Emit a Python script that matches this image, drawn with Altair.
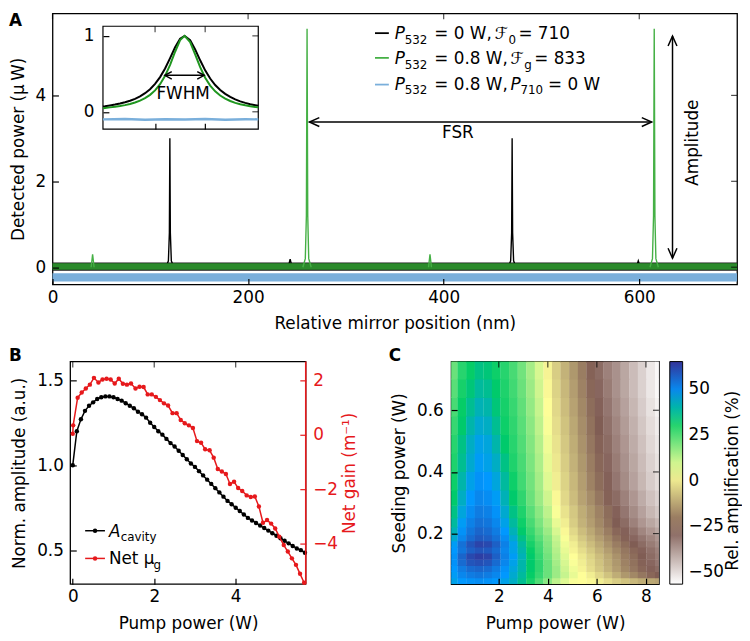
import altair as alt
import pandas as pd

FONT = "DejaVu Sans"
FS = 17
RED = "#e6191c"
GREEN = "#45b045"
GREEN_INSET = "#1f961f"
GREEN_BAND = "#2b8a2b"
BLUE = "#7aafdb"

# ---------------- Panel A data ----------------
band_x = [0, 700]
blk_band = [-0.08, 0.11]
grn_band = [-0.06, 0.09]
blu_band = [-0.33, -0.14]

blk_x = [116, 118.5, 119.5, 120, 120.5, 121.5, 124,
         241, 243, 245,
         466, 468.5, 469.5, 470, 470.5, 471.5, 474,
         597, 599, 601]
blk_y = [0, 0.15, 0.8, 3.0, 0.8, 0.15, 0,
         0, 0.19, 0,
         0, 0.15, 0.8, 3.0, 0.8, 0.15, 0,
         0, 0.15, 0]
blk_seg = [1] * 7 + [2] * 3 + [3] * 7 + [4] * 3

grn_x = [39.5, 41, 42.5,
         256, 258.5, 259.6, 260.3, 261, 262, 264.5,
         384.5, 386, 387.5,
         611, 613.5, 614.6, 615.3, 616, 617, 619.5]
grn_y = [0, 0.30, 0,
         0, 0.2, 1.2, 5.55, 1.2, 0.2, 0,
         0, 0.30, 0,
         0, 0.2, 1.2, 5.55, 1.2, 0.2, 0]
grn_seg = [1] * 3 + [2] * 7 + [3] * 3 + [4] * 7

# inset (normalised resonance)
inset_u = [-0.04, 0.0, 0.1, 0.2, 0.3, 0.4, 0.5, 0.6, 0.7, 0.8, 0.9, 1.0, 1.1, 1.2, 1.3,
           1.4, 1.5, 1.59, 1.7, 1.8, 1.9, 2.0, 2.1, 2.2, 2.3, 2.4, 2.5, 2.6, 2.7, 2.8,
           2.9, 3.0, 3.06]
inset_blk = [0.071, 0.074, 0.084, 0.095, 0.109, 0.125, 0.146, 0.171, 0.204, 0.245, 0.298,
             0.368, 0.457, 0.571, 0.707, 0.849, 0.962, 1.0, 0.944, 0.821, 0.678, 0.546,
             0.438, 0.352, 0.287, 0.236, 0.196, 0.163, 0.137, 0.117, 0.100, 0.087, 0.080]
inset_grn = [0.048, 0.051, 0.058, 0.066, 0.076, 0.088, 0.103, 0.123, 0.147, 0.180, 0.223,
             0.282, 0.363, 0.474, 0.619, 0.791, 0.944, 1.0, 0.919, 0.756, 0.588, 0.449,
             0.345, 0.269, 0.214, 0.173, 0.142, 0.118, 0.100, 0.086, 0.074, 0.064, 0.060]
inset_bu = [-0.04, 0.4, 0.8, 1.2, 1.6, 2.0, 2.4, 2.8, 3.06]
inset_bv = [-0.10, -0.095, -0.105, -0.098, -0.102, -0.096, -0.104, -0.099, -0.10]

# ---------------- Panel B data ----------------
pump_b = [0.0, 0.1, 0.2, 0.3, 0.4, 0.5, 0.6, 0.7, 0.8, 0.9,
          1.0, 1.1, 1.2, 1.3, 1.4, 1.5, 1.6, 1.7, 1.8, 1.9,
          2.0, 2.1, 2.2, 2.3, 2.4, 2.5, 2.6, 2.7, 2.8, 2.9,
          3.0, 3.1, 3.2, 3.3, 3.4, 3.5, 3.6, 3.7, 3.8, 3.9,
          4.0, 4.1, 4.2, 4.3, 4.4, 4.5, 4.6, 4.7, 4.8, 4.9,
          5.0, 5.1, 5.2, 5.3, 5.4, 5.5, 5.6, 5.7]
amp_b = [1.00, 1.20, 1.27, 1.32, 1.35, 1.37, 1.39, 1.40, 1.405, 1.405,
         1.40, 1.39, 1.38, 1.365, 1.35, 1.335, 1.315, 1.30, 1.28, 1.25,
         1.225, 1.20, 1.18, 1.155, 1.13, 1.11, 1.085, 1.06, 1.035, 1.01,
         0.99, 0.965, 0.94, 0.915, 0.89, 0.865, 0.84, 0.815, 0.79, 0.77,
         0.75, 0.73, 0.71, 0.69, 0.675, 0.66, 0.645, 0.63, 0.615, 0.60,
         0.585, 0.57, 0.555, 0.54, 0.525, 0.51, 0.50, 0.485]
pump_r = [0.0, 0.01, 0.12, 0.22, 0.32, 0.42, 0.52, 0.63, 0.73, 0.83, 0.93, 1.03,
          1.13, 1.23, 1.33, 1.43, 1.54, 1.64, 1.74, 1.84, 1.94, 2.04,
          2.14, 2.24, 2.34, 2.45, 2.55, 2.65, 2.75, 2.85, 2.95, 3.05,
          3.15, 3.25, 3.36, 3.46, 3.56, 3.66, 3.76, 3.86, 3.96, 4.06,
          4.16, 4.27, 4.37, 4.47, 4.57, 4.67, 4.77, 4.87, 4.97, 5.07,
          5.18, 5.28, 5.38, 5.48, 5.58, 5.68]
gain_r = [0.04, 0.35, 1.37, 1.56, 1.71, 1.85, 2.10, 1.93, 2.04, 2.07, 2.04, 1.89,
          2.07, 1.88, 1.85, 1.89, 1.71, 1.77, 1.76, 1.49, 1.49, 1.40,
          1.28, 1.16, 1.08, 0.80, 0.80, 0.55, 0.43, 0.35, 0.25, -0.23,
          -0.29, -0.53, -0.57, -0.84, -1.26, -1.35, -1.44, -1.81, -1.73, -1.96,
          -2.07, -2.23, -2.29, -2.27, -2.64, -3.24, -3.14, -3.27, -3.45, -3.75,
          -4.06, -4.30, -4.55, -4.79, -5.12, -5.45]

# ---------------- Panel C data ----------------
pump_c = [0.15, 0.5, 0.85, 1.2, 1.55, 1.9, 2.25, 2.6, 2.95, 3.3, 3.65, 4.0, 4.35,
          4.7, 5.05, 5.4, 5.75, 6.1, 6.45, 6.8, 7.15, 7.5, 7.85, 8.2, 8.55]
seed_lo = [0.036, 0.055, 0.075, 0.095, 0.115, 0.135, 0.155, 0.175, 0.195, 0.22,
           0.25, 0.29, 0.34, 0.40, 0.46, 0.52, 0.58, 0.64, 0.70]
seed_hi = [0.055, 0.075, 0.095, 0.115, 0.135, 0.155, 0.175, 0.195, 0.22, 0.25,
           0.29, 0.34, 0.40, 0.46, 0.52, 0.58, 0.64, 0.70, 0.76]
amp_grid = [
    [45, 47, 48, 49, 48, 47, 45, 42, 38, 32, 25, 18, 12, 8, 5, 4, 3, 1, -2, -5, -7, -9, -11, -12, -13],
    [46, 50, 52, 53, 52, 50, 47, 43, 39, 34, 28, 22, 16, 11, 7, 4, 1, -3, -7, -11, -15, -18, -21, -24, -26],
    [47, 52, 55, 56, 55, 52, 48, 44, 40, 35, 29, 22, 16, 10, 6, 2, -2, -6, -10, -14, -18, -21, -24, -27, -29],
    [48, 55, 59, 60, 59, 55, 50, 45, 40, 35, 29, 22, 15, 9, 5, 1, -3, -7, -11, -15, -19, -22, -25, -28, -31],
    [48, 56, 61, 63, 62, 57, 51, 46, 41, 35, 28, 21, 14, 8, 4, 0, -4, -8, -12, -16, -20, -23, -26, -29, -32],
    [47, 53, 57, 59, 58, 55, 50, 45, 40, 34, 27, 20, 13, 7, 2, -2, -6, -10, -14, -18, -21, -24, -27, -30, -33],
    [46, 54, 59, 62, 61, 57, 51, 45, 39, 32, 26, 19, 12, 6, 1, -4, -8, -12, -16, -20, -23, -26, -29, -32, -35],
    [43, 50, 55, 58, 57, 54, 49, 43, 37, 30, 24, 18, 11, 5, -1, -6, -10, -14, -18, -22, -25, -28, -31, -34, -37],
    [41, 48, 53, 56, 55, 52, 47, 41, 35, 28, 22, 16, 9, 3, -3, -8, -12, -16, -20, -24, -27, -30, -34, -37, -40],
    [39, 46, 51, 54, 53, 50, 45, 39, 33, 26, 20, 14, 7, 1, -5, -10, -14, -18, -22, -26, -29, -33, -37, -40, -43],
    [37, 44, 49, 52, 51, 48, 43, 37, 31, 24, 18, 12, 5, -1, -6, -11, -15, -19, -23, -27, -31, -35, -39, -43, -46],
    [35, 42, 47, 50, 49, 46, 41, 35, 29, 22, 16, 10, 3, -3, -8, -13, -17, -21, -25, -29, -33, -37, -41, -45, -48],
    [33, 40, 45, 48, 47, 44, 39, 33, 27, 21, 15, 8, 1, -4, -9, -14, -19, -23, -27, -31, -35, -39, -43, -47, -50],
    [31, 38, 43, 46, 45, 42, 37, 31, 26, 20, 14, 7, 0, -5, -10, -15, -20, -24, -28, -32, -36, -40, -44, -48, -51],
    [30, 37, 42, 45, 44, 40, 35, 30, 25, 19, 13, 6, -1, -6, -11, -16, -21, -25, -29, -33, -37, -41, -45, -49, -52],
    [28, 35, 40, 43, 42, 38, 33, 29, 24, 18, 12, 5, -2, -7, -12, -17, -22, -26, -30, -34, -38, -42, -46, -50, -53],
    [26, 34, 38, 41, 40, 36, 32, 28, 23, 17, 11, 4, -3, -8, -13, -18, -23, -27, -31, -35, -39, -43, -47, -51, -54],
    [24, 32, 36, 39, 38, 35, 31, 27, 22, 16, 10, 3, -4, -9, -14, -19, -24, -28, -32, -36, -40, -44, -48, -52, -55],
    [22, 30, 34, 37, 36, 33, 30, 26, 21, 15, 9, 2, -5, -10, -15, -20, -25, -29, -33, -36, -40, -44, -48, -52, -55],
]
cbar_domain = [-56.5, -26.1, 4.25, 34.6, 46.8, 65]
cbar_colors = ["#ffffff", "#805c54", "#ffff99", "#00cc66", "#0099ff", "#333399"]
cbar_ticks = [-50, -25, 0, 25, 50]

ONE = pd.DataFrame({"k": [0]})

LEFT = "M1,-0.45L0,0L1,0.45"
RIGHT = "M-1,-0.45L0,0L-1,0.45"
UP = "M-0.45,1L0,0L0.45,1"
DOWN = "M-0.45,-1L0,0L0.45,-1"
SLEFT = "M1,-0.55L0,0L1,0.55"
SRIGHT = "M-1,-0.55L0,0L-1,0.55"


def axis(**kw):
    d = dict(domain=False, grid=False, ticks=True, tickSize=6, tickWidth=1.2,
             tickColor="black", offset=-6, labelFont=FONT, labelFontSize=FS,
             labelColor="black", titleFont=FONT, titleFontSize=FS,
             titleFontWeight="normal", titleColor="black", zindex=1,
             labelFlush=False, labelOverlap=False)
    d.update(kw)
    return alt.Axis(**d)


def txt(s, x, y, size=FS, style="normal", weight="normal", color="black",
        align="left", baseline="alphabetic", angle=0):
    return alt.Chart(ONE).mark_text(
        font=FONT, fontSize=size, fontStyle=style, fontWeight=weight, color=color,
        align=align, baseline=baseline, angle=angle
    ).encode(x=alt.value(x), y=alt.value(y), text=alt.value(s))


# ================= Panel A =================
WA, HA = 692, 274


def XA(f):
    return alt.X(f, type="quantitative",
                 scale=alt.Scale(domain=[0, 700], nice=False, zero=False),
                 axis=axis(values=[0, 200, 400, 600], title="Relative mirror position (nm)",
                           labelPadding=5, titlePadding=11))


def YA(f):
    return alt.Y(f, type="quantitative",
                 scale=alt.Scale(domain=[-0.40, 5.91], nice=False, zero=False),
                 axis=axis(values=[0, 2, 4], title="Detected power (\u00b5\u2009W)",
                           labelPadding=7, titlePadding=8))


def band(lims, color):
    df = pd.DataFrame({"x": band_x, "lo": [lims[0]] * 2, "hi": [lims[1]] * 2})
    return alt.Chart(df).mark_area(color=color, opacity=1).encode(
        x=XA("x"), y=YA("lo"), y2="hi")


blk_df = pd.DataFrame({"x": blk_x, "y": blk_y, "seg": blk_seg})
grn_df = pd.DataFrame({"x": grn_x, "y": grn_y, "seg": grn_seg})

fsr_df = pd.DataFrame({"x": [262.7], "x2": [612.7], "y": [3.38]})
ampl_df = pd.DataFrame({"x": [634.0], "y": [0.21], "y2": [5.38]})
heads_df = pd.DataFrame({"x": [262.7, 612.7, 634.0, 634.0],
                         "y": [3.38, 3.38, 5.38, 0.21],
                         "shp": [LEFT, RIGHT, UP, DOWN]})

main_layers = [
    band(blk_band, "#1a1a1a"),
    alt.Chart(blk_df).mark_line(color="black", strokeWidth=1.4).encode(
        x=XA("x"), y=YA("y"), detail="seg:N"),
    band(grn_band, GREEN_BAND),
    alt.Chart(grn_df).mark_line(color=GREEN, strokeWidth=1.4).encode(
        x=XA("x"), y=YA("y"), detail="seg:N"),
    band(blu_band, BLUE),
    alt.Chart(fsr_df).mark_rule(color="black", strokeWidth=1.5).encode(
        x=XA("x"), x2="x2", y=YA("y")),
    alt.Chart(ampl_df).mark_rule(color="black", strokeWidth=1.5).encode(
        x=XA("x"), y=YA("y"), y2="y2"),
    alt.Chart(heads_df).mark_point(filled=False, stroke="black", strokeWidth=1.5,
                                   size=400, opacity=1).encode(
        x=XA("x"), y=YA("y"), shape=alt.Shape("shp:N", scale=None)),
    alt.Chart(ONE).mark_text(font=FONT, fontSize=FS, align="center", baseline="middle").encode(
        x=alt.datum(414.5), y=alt.datum(3.12), text=alt.value("FSR")),
    alt.Chart(ONE).mark_text(font=FONT, fontSize=FS, align="center", baseline="middle",
                             angle=270).encode(
        x=alt.datum(654.5), y=alt.datum(2.9), text=alt.value("Amplitude")),
    # top / right inward ticks
    alt.Chart(pd.DataFrame({"t": [0, 200, 400, 600]})).mark_tick(
        orient="vertical", size=6, thickness=1.2, color="black").encode(
        x=XA("t"), y=alt.value(3)),
    alt.Chart(pd.DataFrame({"t": [0, 2, 4]})).mark_tick(
        orient="horizontal", size=6, thickness=1.2, color="black").encode(
        y=YA("t"), x=alt.value(WA - 3)),
]

# legend of panel A
for col, yy in [("black", 20), (GREEN, 45), (BLUE, 72)]:
    main_layers.append(alt.Chart(ONE).mark_rule(color=col, strokeWidth=1.8).encode(
        x=alt.value(326), x2=alt.value(340), y=alt.value(yy)))

legA = [
    ("P", 346, 26, FS, "italic"), ("532", 356, 31, 12, "normal"),
    ("= 0 W,", 386, 26, FS, "normal"), ("\u2131", 447, 26, FS, "normal"),
    ("0", 461, 31, 12, "normal"), ("= 710", 471, 26, FS, "normal"),
    ("P", 346, 51, FS, "italic"), ("532", 356, 56, 12, "normal"),
    ("= 0.8 W,", 386, 51, FS, "normal"), ("\u2131", 463, 51, FS, "normal"),
    ("g", 477, 56, 12, "normal"), ("= 833", 487, 51, FS, "normal"),
    ("P", 346, 77, FS, "italic"), ("532", 356, 82, 12, "normal"),
    ("= 0.8 W,", 386, 77, FS, "normal"), ("P", 463, 77, FS, "italic"),
    ("710", 473, 82, 12, "normal"), ("= 0 W", 501, 77, FS, "normal"),
]
for s, x, y, sz, st in legA:
    main_layers.append(txt(s, x, y, size=sz, style=st))

main_layers.append(txt("A", -44, 13, weight="bold"))

mainA = alt.layer(*main_layers)

# ---- inset ----
IX0, IX1, IY0, IY1 = 51, 208, 117, 13


def IX(f):
    return alt.X(f, type="quantitative",
                 scale=alt.Scale(domain=[-0.04, 3.06], range=[IX0, IX1], nice=False, zero=False),
                 axis=axis(orient="bottom", offset=-(HA - IY0) - 6, values=[1, 2],
                           labels=False, title=None))


def IY(f):
    return alt.Y(f, type="quantitative",
                 scale=alt.Scale(domain=[-0.228, 1.127], range=[IY0, IY1], nice=False, zero=False),
                 axis=axis(orient="left", offset=-(IX0 + 6), values=[0, 1], format="d",
                           title=None, labelPadding=9))


frame_df = pd.DataFrame({"u0": [-0.04], "u1": [3.06], "v0": [-0.228], "v1": [1.127]})
ins_df = pd.DataFrame({"u": inset_u, "b": inset_blk, "g": inset_grn})
insb_df = pd.DataFrame({"u": inset_bu, "v": inset_bv})
fwhm_df = pd.DataFrame({"u": [1.195], "u2": [1.98], "v": [0.48]})
fwhm_heads = pd.DataFrame({"u": [1.195, 1.98], "v": [0.48, 0.48], "shp": [SLEFT, SRIGHT]})

inset = alt.layer(
    alt.Chart(frame_df).mark_rect(fill="white", stroke="black", strokeWidth=1.2).encode(
        x=IX("u0"), x2="u1", y=IY("v0"), y2="v1"),
    alt.Chart(insb_df).mark_line(color=BLUE, strokeWidth=2.5).encode(x=IX("u"), y=IY("v")),
    alt.Chart(ins_df).mark_line(color="black", strokeWidth=2).encode(x=IX("u"), y=IY("b")),
    alt.Chart(ins_df).mark_line(color=GREEN_INSET, strokeWidth=2).encode(x=IX("u"), y=IY("g")),
    alt.Chart(fwhm_df).mark_rule(color="black", strokeWidth=1.5).encode(
        x=IX("u"), x2="u2", y=IY("v")),
    alt.Chart(fwhm_heads).mark_point(filled=False, stroke="black", strokeWidth=1.5,
                                     size=196, opacity=1).encode(
        x=IX("u"), y=IY("v"), shape=alt.Shape("shp:N", scale=None)),
    alt.Chart(ONE).mark_text(font=FONT, fontSize=FS, align="center", baseline="middle").encode(
        x=alt.datum(1.56), y=alt.datum(0.24), text=alt.value("FWHM")),
    alt.Chart(pd.DataFrame({"t": [1, 2]})).mark_tick(
        orient="vertical", size=6, thickness=1.2, color="black").encode(
        x=IX("t"), y=alt.value(IY1 + 3)),
    alt.Chart(pd.DataFrame({"t": [0, 1]})).mark_tick(
        orient="horizontal", size=6, thickness=1.2, color="black").encode(
        y=IY("t"), x=alt.value(IX1 - 3)),
)

panelA = alt.layer(mainA, inset).resolve_scale(
    x="independent", y="independent").properties(width=WA, height=HA)

# ================= Panel B =================
BOFF = 18
WB, HB = 238, 225


def XB(f):
    return alt.X(f, type="quantitative",
                 scale=alt.Scale(domain=[-0.06, 5.72], range=[BOFF, BOFF + WB],
                                 nice=False, zero=False),
                 axis=axis(values=[0, 2, 4], title="Pump power (W)", labelPadding=5,
                           titlePadding=11))


def YB(f):
    return alt.Y(f, type="quantitative",
                 scale=alt.Scale(domain=[0.30, 1.61], nice=False, zero=False),
                 axis=axis(values=[0.5, 1.0, 1.5], format=".1f", offset=-(BOFF + 6),
                           title="Norm. amplitude (a.u.)", labelPadding=7, titlePadding=8))


def YR(f):
    return alt.Y(f, type="quantitative",
                 scale=alt.Scale(domain=[-5.5, 2.7], nice=False, zero=False),
                 axis=axis(orient="right", values=[-4, -2, 0, 2], title="Net gain (m\u207b\u00b9)",
                           labelColor=RED, tickColor=RED, titleColor=RED, labelPadding=7,
                           titlePadding=4, titleAngle=270, titleBaseline="top"))


dfb = pd.DataFrame({"p": pump_b, "a": amp_b})
dfr = pd.DataFrame({"p": pump_r, "g": gain_r})

black_child = alt.layer(
    alt.Chart(ONE).mark_rect(fill="transparent", stroke="black", strokeWidth=1.3).encode(
        x=alt.value(BOFF), x2=alt.value(BOFF + WB), y=alt.value(0), y2=alt.value(HB)),
    alt.Chart(dfb).mark_line(color="black", strokeWidth=1.5).encode(x=XB("p"), y=YB("a")),
    alt.Chart(dfb).mark_circle(color="black", size=20, opacity=1).encode(x=XB("p"), y=YB("a")),
    alt.Chart(pd.DataFrame({"t": [0, 2, 4]})).mark_tick(
        orient="vertical", size=6, thickness=1.2, color="black").encode(
        x=XB("t"), y=alt.value(3)),
    alt.Chart(ONE).mark_rule(color="black", strokeWidth=1.5).encode(
        x=alt.value(BOFF + 15), x2=alt.value(BOFF + 35), y=alt.value(171)),
    alt.Chart(ONE).mark_circle(color="black", size=20, opacity=1).encode(
        x=alt.value(BOFF + 25), y=alt.value(171)),
    alt.Chart(ONE).mark_rule(color=RED, strokeWidth=1.5).encode(
        x=alt.value(BOFF + 15), x2=alt.value(BOFF + 35), y=alt.value(199)),
    alt.Chart(ONE).mark_circle(color=RED, size=20, opacity=1).encode(
        x=alt.value(BOFF + 25), y=alt.value(199)),
    txt("A", BOFF + 39, 177, style="italic"),
    txt("cavity", BOFF + 51, 181, size=12),
    txt("Net \u03bc", BOFF + 39, 205),
    txt("g", BOFF + 84, 210, size=12),
    txt("B", BOFF - 62, -1, weight="bold"),
)
red_child = alt.layer(
    alt.Chart(dfr).mark_line(color=RED, strokeWidth=1.5).encode(x=XB("p"), y=YR("g")),
    alt.Chart(dfr).mark_circle(color=RED, size=20, opacity=1).encode(x=XB("p"), y=YR("g")),
    alt.Chart(ONE).mark_rule(color=RED, strokeWidth=1.6).encode(
        x=alt.value(BOFF + WB), y=alt.value(0), y2=alt.value(HB)),
)
panelB = alt.layer(black_child, red_child).resolve_scale(y="independent").properties(
    width=BOFF + WB, height=HB, view=alt.ViewBackground(stroke="transparent"))

# ================= Panel C =================
WC, HC = 210, 225
CB_OFF = 11


def XC(f):
    return alt.X(f, type="quantitative",
                 scale=alt.Scale(domain=[0.06, 8.53], nice=False, zero=False),
                 axis=axis(values=[2, 4, 6, 8], title="Pump power (W)", labelPadding=5,
                           titlePadding=11))


def YC(f):
    return alt.Y(f, type="quantitative",
                 scale=alt.Scale(domain=[0.036, 0.758], nice=False, zero=False),
                 axis=axis(values=[0.2, 0.4, 0.6], format=".1f", title="Seeding power (W)",
                           labelPadding=8, titlePadding=8))


rows = []
for i, (lo, hi) in enumerate(zip(seed_lo, seed_hi)):
    for j, p in enumerate(pump_c):
        rows.append({"x0": p - 0.18, "x1": p + 0.18, "y0": lo, "y1": hi + 0.002,
                     "v": amp_grid[i][j]})
dfc = pd.DataFrame(rows)

cscale = alt.Scale(domain=cbar_domain, range=cbar_colors, interpolate="rgb")
heat = alt.Chart(dfc).mark_rect(clip=True, strokeWidth=0).encode(
    x=XC("x0"), x2="x1", y=YC("y0"), y2="y1",
    color=alt.Color("v:Q", scale=cscale, legend=alt.Legend(
        title=None, orient="right", direction="vertical",
        gradientLength=HC, gradientThickness=13, gradientStrokeColor="black",
        gradientStrokeWidth=1, values=cbar_ticks, labelFont=FONT,
        labelFontSize=FS, labelColor="black", labelOffset=6, offset=CB_OFF, padding=0)))

heat_layer = alt.layer(
    heat,
    alt.Chart(pd.DataFrame({"t": [2, 4, 6, 8]})).mark_tick(
        orient="vertical", size=6, thickness=1.2, color="black").encode(
        x=XC("t"), y=alt.value(3)),
    alt.Chart(pd.DataFrame({"t": [0.2, 0.4, 0.6]})).mark_tick(
        orient="horizontal", size=6, thickness=1.2, color="black").encode(
        y=YC("t"), x=alt.value(WC - 3)),
    txt("C", -63, -1, weight="bold"),
    txt("Rel. amplification (%)", WC + 75, HC / 2 + 8, align="center",
        baseline="middle", angle=270),
)
# inward ticks on the right edge of the colour bar
cbar_tick_layer = alt.Chart(pd.DataFrame({"t": cbar_ticks})).mark_tick(
    orient="horizontal", size=5, thickness=1.2, color="black").encode(
    y=alt.Y("t:Q", scale=alt.Scale(domain=[cbar_domain[0], cbar_domain[-1]], range=[HC, 0],
                                   nice=False, zero=False), axis=None),
    x=alt.value(WC + CB_OFF + 13 - 2.5))

panelC = alt.layer(heat_layer, cbar_tick_layer).resolve_scale(y="independent").properties(
    width=WC, height=HC)

bottom = alt.hconcat(panelB, panelC, spacing=30).resolve_legend(color="independent")
chart = alt.vconcat(panelA, bottom, spacing=13).resolve_legend(
    color="independent").properties(padding=0).configure_view(
    stroke="black", strokeWidth=1.3)

chart.save("out.html", embed_options={"renderer": "svg", "actions": False})
